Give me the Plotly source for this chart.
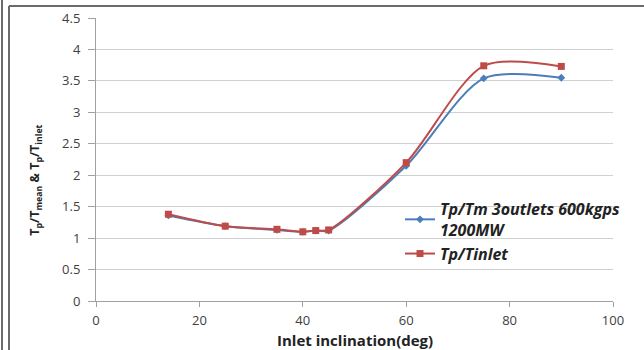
import plotly.graph_objects as go

angles = [14, 25, 35, 40, 42.5, 45, 60, 75, 90]
tp_tm = [1.36, 1.19, 1.13, 1.10, 1.12, 1.12, 2.15, 3.54, 3.55]
tp_tinlet = [1.38, 1.19, 1.14, 1.10, 1.12, 1.13, 2.20, 3.74, 3.73]
series_names = ["<b><i>Tp/Tm 3outlets 600kgps<br>1200MW</i></b>", "<b><i>Tp/Tinlet</i></b>"]
x_ticks = [0, 20, 40, 60, 80, 100]
y_ticks = [0, 0.5, 1, 1.5, 2, 2.5, 3, 3.5, 4, 4.5]
y_tick_labels = ["0", "0.5", "1", "1.5", "2", "2.5", "3", "3.5", "4", "4.5"]
x_title = "<b>Inlet inclination(deg)</b>"
y_title = "<b>T<sub>p</sub>/T<sub>mean</sub> & T<sub>p</sub>/T<sub>inlet</sub></b>"

fig = go.Figure()
fig.add_trace(go.Scatter(x=angles, y=tp_tm, name=series_names[0], mode="lines+markers",
                         line=dict(color="#4a7ebb", width=2, shape="spline", smoothing=0.8),
                         marker=dict(symbol="diamond", size=6, color="#4a7ebb")))
fig.add_trace(go.Scatter(x=angles, y=tp_tinlet, name=series_names[1], mode="lines+markers",
                         line=dict(color="#be4b48", width=2, shape="spline", smoothing=0.8),
                         marker=dict(symbol="square", size=7, color="#be4b48")))

fig.update_layout(
    width=644, height=350,
    margin=dict(l=96, r=31, t=18, b=49, autoexpand=False),
    paper_bgcolor="white", plot_bgcolor="white",
    font=dict(family="Open Sans", size=13, color="#404040"),
    showlegend=True,
    legend=dict(x=0.588, y=0.385, xanchor="left", yanchor="top", bgcolor="rgba(0,0,0,0)",
                font=dict(family="Open Sans", size=16, color="#222"), itemwidth=30,
                tracegroupgap=0),
    xaxis=dict(range=[0, 100], tickvals=x_ticks, showgrid=False, zeroline=False, automargin=False,
               showline=True, linecolor="#a0a0a0", ticks="outside", tickcolor="#a0a0a0", ticklen=5,
               ticklabelstandoff=2,
               tickfont=dict(size=13, color="#404040")),
    yaxis=dict(range=[0, 4.5], tickvals=y_ticks, ticktext=y_tick_labels, showgrid=True, automargin=False,
               gridcolor="#d0d0d0", zeroline=False, showline=True, linecolor="#a0a0a0",
               ticks="outside", tickcolor="#a0a0a0", ticklen=7, ticklabelstandoff=5,
               tickfont=dict(size=13, color="#404040")),
)

fig.add_annotation(text=x_title, xref="paper", yref="paper", x=0.5, y=-39/283,
                   xanchor="center", yanchor="middle", showarrow=False,
                   font=dict(family="Open Sans", size=15, color="#222"))
fig.add_annotation(text=y_title, xref="paper", yref="paper", x=-60/517, y=0.425,
                   xanchor="center", yanchor="middle", showarrow=False, textangle=-90,
                   font=dict(family="Open Sans", size=12.5, color="#222"))

# frame lines around the picture
frame = [
    dict(x0=-96/517 + 2/517, x1=-96/517 + 2/517, y0=-49/283, y1=1 + 18/283),
    dict(x0=-96/517 + 9/517, x1=-96/517 + 9/517, y0=-49/283, y1=1 + 12/283),
    dict(x0=-96/517 + 9/517, x1=1 + 31/517, y0=1 + 12/283, y1=1 + 12/283),
]
for f in frame:
    fig.add_shape(type="line", xref="paper", yref="paper", line=dict(color="#6a6a6a", width=2), **f)

fig.write_html("out.html", config={"displayModeBar": False},
               post_script="document.body.style.margin='0';")
